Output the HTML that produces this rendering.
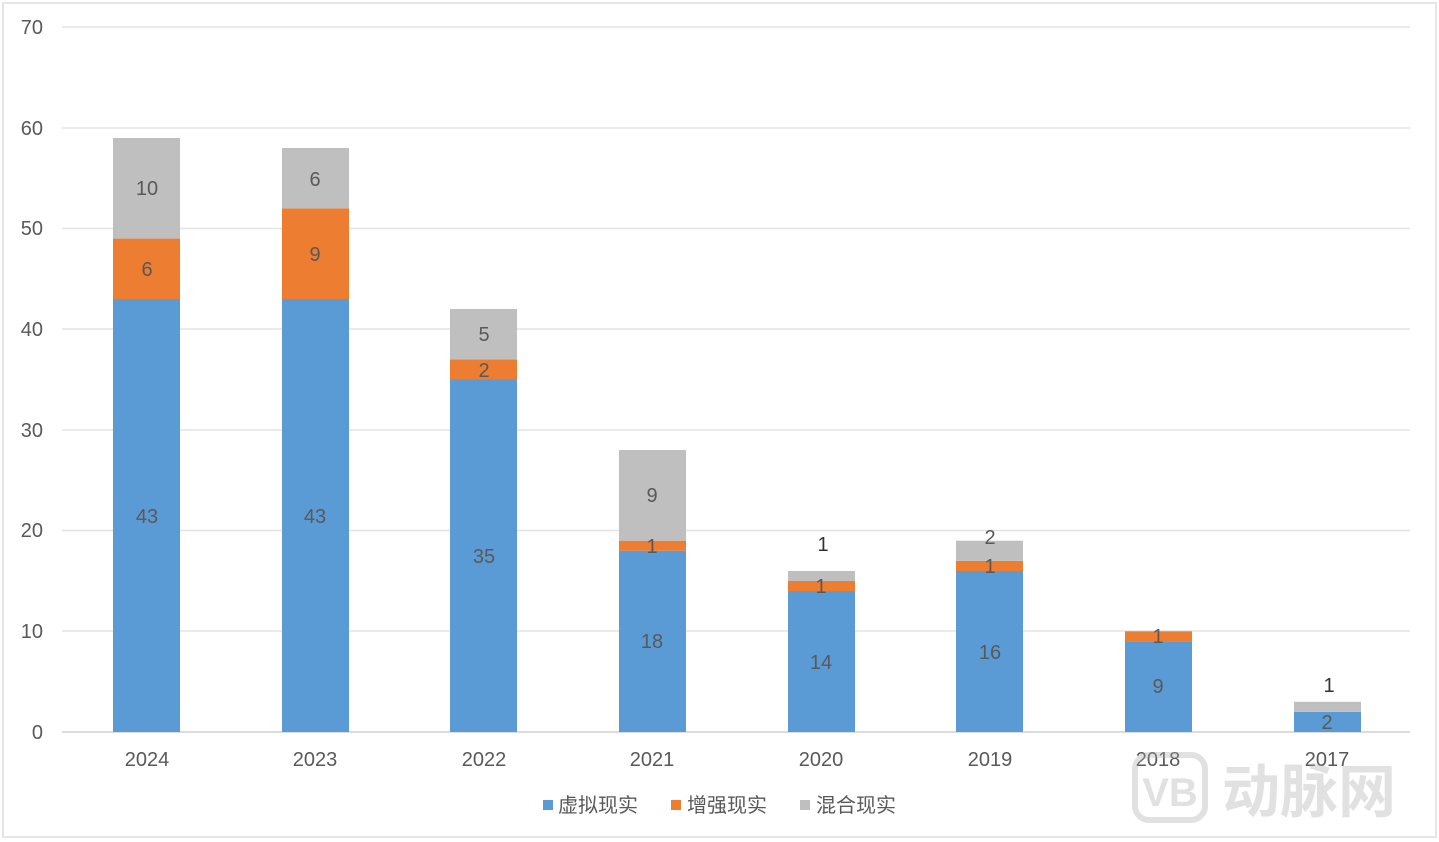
<!DOCTYPE html>
<html><head><meta charset="utf-8">
<style>
html,body{margin:0;padding:0;background:#fff;}
svg{display:block;font-family:"Liberation Sans","Noto Sans CJK SC",sans-serif;}
</style></head><body>
<svg width="1439" height="842" viewBox="0 0 1439 842" xmlns="http://www.w3.org/2000/svg">
<rect x="0" y="0" width="1439" height="842" fill="#fff"/>
<rect x="3" y="3" width="1433" height="834" fill="none" stroke="#e6e6e6" stroke-width="2"/>
<g stroke="#e3e3e3" stroke-width="1.5">
<line x1="62" x2="1410" y1="27" y2="27"/>
<line x1="62" x2="1410" y1="128" y2="128"/>
<line x1="62" x2="1410" y1="228.5" y2="228.5"/>
<line x1="62" x2="1410" y1="329" y2="329"/>
<line x1="62" x2="1410" y1="430" y2="430"/>
<line x1="62" x2="1410" y1="530.5" y2="530.5"/>
<line x1="62" x2="1410" y1="631" y2="631"/>
</g>
<line x1="62" x2="1410" y1="732" y2="732" stroke="#d0d0d0" stroke-width="1.5"/>
<g fill="#595959" font-size="20" text-anchor="end">
<text x="43" y="34">70</text><text x="43" y="135">60</text><text x="43" y="235">50</text>
<text x="43" y="336">40</text><text x="43" y="437">30</text><text x="43" y="537">20</text>
<text x="43" y="638">10</text><text x="43" y="739">0</text>
</g>
<g>
<rect x="113" y="299" width="67" height="433" fill="#5B9BD5"/><rect x="113" y="238.6" width="67" height="60.4" fill="#ED7D31"/><rect x="113" y="138" width="67" height="100.6" fill="#BFBFBF"/>
<rect x="282" y="299" width="67" height="433" fill="#5B9BD5"/><rect x="282" y="208.4" width="67" height="90.6" fill="#ED7D31"/><rect x="282" y="148" width="67" height="60.4" fill="#BFBFBF"/>
<rect x="450" y="379.5" width="67" height="352.5" fill="#5B9BD5"/><rect x="450" y="359.4" width="67" height="20.1" fill="#ED7D31"/><rect x="450" y="309" width="67" height="50.4" fill="#BFBFBF"/>
<rect x="619" y="550.7" width="67" height="181.3" fill="#5B9BD5"/><rect x="619" y="540.7" width="67" height="10" fill="#ED7D31"/><rect x="619" y="450" width="67" height="90.7" fill="#BFBFBF"/>
<rect x="788" y="591" width="67" height="141" fill="#5B9BD5"/><rect x="788" y="581" width="67" height="10" fill="#ED7D31"/><rect x="788" y="571" width="67" height="10" fill="#BFBFBF"/>
<rect x="956" y="571" width="67" height="161" fill="#5B9BD5"/><rect x="956" y="560.8" width="67" height="10.2" fill="#ED7D31"/><rect x="956" y="540.7" width="67" height="20.1" fill="#BFBFBF"/>
<rect x="1125" y="641.4" width="67" height="90.6" fill="#5B9BD5"/><rect x="1125" y="631.3" width="67" height="10.1" fill="#ED7D31"/>
<rect x="1294" y="711.9" width="67" height="20.1" fill="#5B9BD5"/><rect x="1294" y="701.8" width="67" height="10.1" fill="#BFBFBF"/>
</g>
<g fill="#595959" font-size="20" text-anchor="middle">
<text x="147" y="523">43</text><text x="147" y="276">6</text><text x="147" y="195">10</text>
<text x="315" y="523">43</text><text x="315" y="261">9</text><text x="315" y="186">6</text>
<text x="484" y="563">35</text><text x="484" y="377">2</text><text x="484" y="341">5</text>
<text x="652" y="648">18</text><text x="652" y="553">1</text><text x="652" y="502">9</text>
<text x="821" y="669">14</text><text x="821" y="593">1</text><text x="823" y="551" fill="#333">1</text>
<text x="990" y="659">16</text><text x="990" y="573">1</text><text x="990" y="544">2</text>
<text x="1158" y="693">9</text><text x="1158" y="643">1</text>
<text x="1327" y="729">2</text><text x="1329" y="692" fill="#333">1</text>
</g>
<g fill="#595959" font-size="20" text-anchor="middle">
<text x="147" y="766">2024</text><text x="315" y="766">2023</text><text x="484" y="766">2022</text>
<text x="652" y="766">2021</text><text x="821" y="766">2020</text><text x="990" y="766">2019</text>
<text x="1158" y="766">2018</text><text x="1327" y="766">2017</text>
</g>
<g font-size="20" fill="#595959">
<rect x="543" y="800" width="10" height="10" fill="#5B9BD5"/><text x="558" y="812">虚拟现实</text>
<rect x="671" y="800" width="10" height="10" fill="#ED7D31"/><text x="687" y="812">增强现实</text>
<rect x="800" y="800" width="10" height="10" fill="#BFBFBF"/><text x="816" y="812">混合现实</text>
</g>
<g opacity="0.35">
<rect x="1135" y="755" width="70" height="65" rx="14" fill="none" stroke="#aaa" stroke-width="6"/>
<text x="1170" y="806" font-size="40" fill="#aaa" text-anchor="middle" font-weight="bold">VB</text>
<text x="1222" y="812" font-size="58" fill="#aaa" font-weight="bold">动脉网</text>
</g>
</svg>
</body></html>
